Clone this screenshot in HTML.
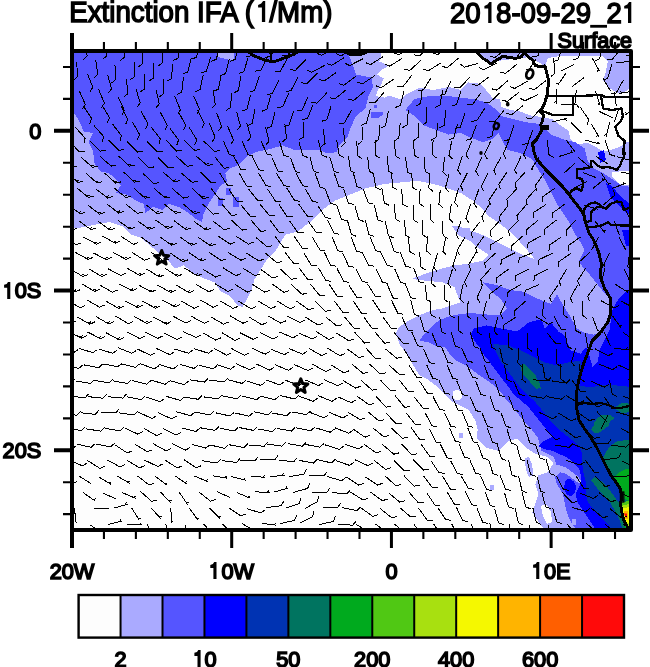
<!DOCTYPE html>
<html><head><meta charset="utf-8"><title>Extinction IFA</title>
<style>
html,body{margin:0;padding:0;background:#fff;}
body{width:650px;height:667px;overflow:hidden;font-family:"Liberation Sans",sans-serif;}
svg{display:block;}
</style></head><body>
<svg width="650" height="667" viewBox="0 0 650 667">
<rect width="650" height="667" fill="#fff"/>
<defs><filter id="gs" x="0" y="0" width="650" height="667" filterUnits="userSpaceOnUse" color-interpolation-filters="sRGB"><feColorMatrix type="saturate" values="0"/></filter><clipPath id="mc"><rect x="72" y="51" width="559" height="479"/></clipPath></defs>
<g clip-path="url(#mc)">
<g shape-rendering="crispEdges">
<rect x="60" y="40" width="590" height="500" fill="#AAAAFF"/>
<polygon fill="#FDFDFD" points="60.0,230.0 85.0,227.0 98.0,224.0 110.0,222.0 124.0,227.0 131.5,234.6 140.8,237.7 150.0,245.4 159.0,253.0 168.5,260.8 174.6,268.5 183.8,265.4 193.0,273.0 205.4,279.0 214.6,282.3 220.8,291.5 230.0,296.0 237.7,305.4 242.3,307.0 247.0,299.0 251.5,290.0 254.6,279.0 262.3,267.0 267.0,259.0 276.0,250.0 285.4,234.6 297.7,231.5 310.0,222.0 322.3,210.0 334.6,200.8 350.0,194.6 365.4,188.5 383.8,184.0 402.3,182.3 417.7,180.8 433.0,183.8 448.5,188.5 460.8,193.0 473.0,200.8 482.3,208.5 488.5,216.0 497.7,222.3 510.0,231.5 519.0,240.8 528.5,251.5 534.6,259.0 522.3,254.6 510.0,248.5 497.7,242.3 485.4,236.0 473.0,231.5 460.8,227.0 451.5,225.4 457.7,234.6 470.0,240.8 479.0,248.5 488.5,254.6 482.3,260.8 467.0,263.8 454.6,265.4 442.3,268.5 427.0,273.0 411.5,279.0 427.0,280.8 442.3,282.3 454.6,287.0 457.7,296.0 460.8,302.3 451.5,305.4 442.3,308.5 433.0,310.0 420.8,314.6 408.5,320.8 399.0,327.0 396.0,333.0 400.0,345.0 406.5,354.0 413.0,364.7 419.4,375.4 428.0,379.7 436.6,386.2 445.3,394.8 451.7,401.3 460.3,405.6 469.0,410.0 475.4,420.7 477.6,429.3 477.0,438.5 486.0,447.7 498.5,450.8 507.7,441.5 517.0,438.5 526.0,447.7 535.4,453.8 547.7,457.0 553.8,463.0 547.7,472.3 538.5,475.4 535.4,484.6 538.5,493.8 535.4,503.0 532.3,512.3 538.5,521.5 547.7,535.0 60.0,535.0"/>
<polygon fill="#FDFDFD" points="380.8,45.0 381.5,57.7 379.2,61.5 384.6,63.8 389.2,65.4 381.5,70.0 377.0,74.6 383.8,78.5 380.8,85.4 377.0,91.5 376.2,96.2 384.6,97.7 389.2,95.4 395.4,97.7 400.0,99.2 406.2,94.6 412.3,91.5 420.0,87.5 433.0,90.0 448.5,87.0 460.8,90.0 467.7,82.3 480.0,83.8 486.0,90.0 492.3,97.7 500.0,99.2 501.5,107.0 510.8,110.0 520.0,111.5 532.3,116.0 543.0,117.0 552.4,119.3 561.6,126.2 568.5,130.8 570.8,140.0 577.8,144.7 587.0,142.4 596.2,147.0 603.2,151.6 612.4,149.3 619.3,147.0 626.3,142.4 640.0,137.8 640.0,93.0 628.6,89.3 621.6,93.9 614.7,91.6 607.8,87.0 603.0,80.0 605.5,73.0 607.8,61.5 603.0,56.5 560.0,56.0 548.0,58.0 545.0,66.0 538.0,62.0 531.0,57.0 520.0,58.0 505.0,60.0 490.0,62.0 483.0,57.7 477.0,53.0 470.0,45.0"/>
<polygon fill="#FDFDFD" points="612.0,172.0 640.0,170.0 640.0,187.0 620.0,184.0 612.0,177.0"/>
<polygon fill="#5555FF" points="60.0,40.0 348.5,40.0 348.5,54.6 353.0,65.4 356.0,74.6 371.5,77.7 373.0,87.0 368.5,96.0 365.4,108.5 356.0,116.0 351.0,127.0 348.0,136.0 343.5,141.0 339.0,146.0 336.5,152.0 328.0,153.5 319.0,150.0 307.0,150.0 294.6,150.0 282.3,145.4 270.0,149.0 257.7,151.5 247.0,156.0 237.7,165.4 230.0,168.5 225.4,173.0 227.0,182.0 220.8,185.4 214.6,194.6 208.5,203.8 203.8,213.0 202.0,222.0 196.0,219.0 188.5,213.0 179.0,207.0 168.5,203.8 162.3,210.0 153.0,207.0 145.4,213.0 143.8,203.8 136.0,200.8 127.0,194.6 116.0,193.0 120.8,185.4 116.0,179.0 108.5,173.0 100.8,171.5 94.6,163.8 93.0,151.5 88.5,142.3 93.0,133.0 83.8,131.5 79.2,120.8 74.0,113.0 60.0,113.0"/>
<polygon fill="#5555FF" points="405.4,110.0 414.6,99.0 430.0,96.0 448.5,96.0 461.5,97.7 473.8,99.2 486.0,102.3 497.0,110.0 501.5,116.0 513.8,119.2 526.0,122.3 538.5,123.8 543.0,127.0 550.8,134.6 563.0,139.2 575.4,142.3 584.6,148.5 587.7,160.8 593.8,168.5 603.0,173.0 612.3,179.2 621.5,185.4 640.0,188.5 640.0,345.0 594.0,334.6 600.0,333.0 607.7,322.3 610.8,313.0 610.8,299.0 606.0,295.0 598.0,285.0 590.0,275.0 578.5,262.0 584.6,250.0 581.5,243.8 575.4,234.6 569.2,222.3 563.0,213.0 557.0,203.8 550.8,191.5 544.6,179.2 538.5,170.0 532.3,159.2 520.0,153.0 507.7,150.0 503.0,142.3 498.5,133.0 492.3,139.2 483.0,142.3 470.8,137.7 460.8,133.0 448.5,134.6 436.0,130.0 423.8,125.4 414.6,116.0"/>
<polygon fill="#5555FF" points="482.0,282.0 497.7,285.4 510.0,290.0 522.3,291.5 538.5,299.0 550.8,303.8 557.0,294.6 561.5,302.3 569.0,314.6 577.0,328.5 584.6,333.0 594.0,334.6 640.0,345.0 640.0,540.0 577.0,540.0 577.0,529.0 575.4,528.4 571.0,521.9 567.0,513.3 565.0,504.7 563.0,493.8 557.0,484.6 553.8,472.3 556.0,463.0 553.8,457.0 541.5,450.8 538.0,438.0 531.5,429.3 525.0,422.8 518.5,414.2 512.0,405.6 505.6,399.0 501.3,392.7 494.8,386.2 486.2,379.7 479.7,375.4 471.0,369.0 464.7,364.7 456.0,360.3 449.6,353.9 445.3,347.4 436.6,346.3 428.0,342.0 419.4,341.0 423.7,334.5 430.2,328.0 438.8,320.5 449.6,316.2 460.3,314.0 471.0,313.0 488.5,314.6 500.8,314.6 507.0,308.5 500.8,299.2 491.5,291.5"/>
<polygon fill="#0000FF" points="473.8,328.5 486.0,325.4 501.5,328.5 517.0,331.5 529.0,322.3 541.5,319.2 544.6,328.5 550.8,322.3 558.5,331.5 563.9,335.0 566.4,340.2 570.7,350.3 580.8,353.7 586.0,347.0 589.3,355.4 592.7,367.3 597.8,362.2 599.5,350.3 602.9,343.6 606.3,336.8 609.7,330.0 611.0,318.0 613.0,308.0 618.0,300.0 625.0,292.0 640.0,285.0 640.0,540.0 596.0,540.0 594.8,528.4 590.5,521.9 586.2,515.4 581.9,509.0 577.6,502.5 575.4,493.9 579.7,485.3 581.0,477.0 580.0,470.8 577.0,466.2 572.3,461.5 566.2,457.0 558.5,453.8 552.3,450.8 544.6,449.2 538.5,446.2 543.0,441.5 552.3,437.0 546.2,429.2 540.0,421.5 533.8,413.8 527.7,406.2 521.5,401.0 514.2,394.8 507.8,386.2 501.3,377.6 494.8,369.0 488.4,360.3 483.0,353.9 479.7,347.4 474.4,341.0 471.0,334.5"/>
<polygon fill="#0000FF" points="622.0,230.0 640.0,230.0 640.0,248.0 626.0,246.0"/>
<polygon fill="#0000FF" points="606.0,183.0 612.0,186.0 620.0,196.0 629.0,203.0 640.0,208.0 640.0,222.0 628.0,214.0 618.0,205.0 610.0,196.0"/>
<polygon fill="#0000FF" points="598.0,152.0 604.0,150.0 606.0,160.0 600.0,163.0"/>
<polygon fill="#0033B3" points="492.3,343.8 507.7,345.4 520.0,350.0 532.3,356.0 544.6,362.3 557.0,365.4 569.2,362.3 578.5,360.8 581.5,361.0 579.5,375.0 578.0,385.0 590.0,387.5 600.0,385.5 610.0,384.5 620.0,386.0 640.0,387.5 640.0,540.0 612.0,540.0 609.9,526.2 603.4,519.7 597.0,513.3 591.0,506.8 587.0,500.3 585.5,491.7 586.0,483.1 584.5,477.0 583.0,470.8 582.3,464.6 581.5,458.5 581.5,452.3 579.2,446.2 573.8,441.5 566.2,435.4 558.5,429.2 552.3,423.0 546.2,415.4 540.0,407.7 533.8,400.5 527.2,394.8 520.7,388.4 514.2,379.7 507.8,371.0 501.3,362.5 497.0,353.9"/>
<polygon fill="#007460" points="520.0,365.4 524.0,364.0 529.0,368.5 535.4,376.0 540.0,384.0 541.0,389.0 533.0,385.0 527.0,379.0 522.0,373.0"/>
<polygon fill="#007460" points="594.3,422.3 598.0,417.0 603.0,415.5 608.0,416.5 610.5,420.0 608.5,426.0 603.0,430.0 597.0,431.0 593.0,428.0"/>
<polygon fill="#007460" points="606.0,452.0 611.0,445.0 617.0,441.5 623.0,440.5 640.0,440.0 640.0,540.0 625.0,540.0 621.0,524.0 617.0,514.0 611.0,504.0 604.0,496.0 597.0,488.0 591.0,480.0 594.0,477.0 601.0,481.0 608.0,488.0 614.0,496.0 619.0,503.0 621.0,497.0 620.0,489.0 616.6,483.0 611.5,476.0 606.4,466.8 603.0,458.0"/>
<polygon fill="#007460" points="591.0,430.0 596.0,421.5 601.2,414.7 609.7,414.7 614.7,418.1 609.7,421.5 604.6,426.6 601.2,431.7 596.0,433.4 592.7,431.7"/>
<polygon fill="#007460" points="616.4,406.3 621.5,402.9 640.0,404.6 640.0,411.4 621.5,413.0 616.4,409.7"/>
<polygon fill="#007460" points="530.0,370.7 535.0,374.0 540.0,386.0 536.8,389.3 530.0,382.5"/>
<polygon fill="#00AA1E" points="613.5,478.0 618.6,473.0 624.6,469.5 640.0,466.0 640.0,505.0 624.6,499.0 620.6,491.0 616.6,483.0"/>
<polygon fill="#00AA1E" points="621.6,503.0 640.0,500.0 640.0,540.0 628.0,540.0 624.0,522.0 621.6,511.0"/>
<polygon fill="#50C814" points="620.8,503.0 629.0,500.5 640.0,500.0 640.0,535.0 627.0,530.0 624.5,523.0 622.0,515.0 620.6,509.0"/>
<polygon fill="#A8E010" points="621.5,506.0 629.0,504.0 640.0,504.0 640.0,528.0 627.0,526.0 624.5,520.0 622.3,513.0"/>
<polygon fill="#F5F800" points="622.3,508.5 629.0,507.0 640.0,507.0 640.0,523.0 627.0,522.5 624.5,518.0 622.8,513.0"/>
<polygon fill="#FFB400" points="623.5,511.5 628.0,511.0 628.5,519.0 625.5,518.5 623.8,515.0"/>
<polygon fill="#FF5F00" points="624.0,513.0 627.2,512.8 627.4,517.6 625.2,517.4"/>
<polygon fill="#FF0A0A" points="625.0,514.3 626.6,514.3 626.6,516.4 625.0,516.4"/>
<polygon fill="#AAAAFF" points="218.0,45.0 234.0,45.0 234.0,61.0 226.0,59.0 218.0,57.0"/>
<polygon fill="#5555FF" points="226.0,188.0 231.0,188.0 231.0,195.0 226.0,195.0"/>
<polygon fill="#5555FF" points="233.0,197.0 239.0,197.0 239.0,207.0 233.0,207.0"/>
<polygon fill="#5555FF" points="218.0,198.0 223.0,198.0 223.0,206.0 218.0,206.0"/>
<polygon fill="#5555FF" points="371.0,111.5 383.0,111.5 383.0,114.5 379.0,117.7 371.0,117.7"/>
<polygon fill="#5555FF" points="373.5,104.5 376.5,104.5 376.5,107.5 373.5,107.5"/>
<polygon fill="#AAAAFF" points="455.0,229.0 470.0,228.0 470.0,238.0 460.0,236.0"/>
<polygon fill="#FDFDFD" points="453.0,391.0 458.0,389.5 461.5,392.0 462.0,397.0 459.0,400.5 455.0,400.0 452.5,396.0"/>
<polygon fill="#AAAAFF" points="490.0,485.0 494.0,485.0 494.0,490.0 490.0,490.0"/>
<polygon fill="#AAAAFF" points="459.0,433.0 463.0,433.0 463.0,438.0 459.0,438.0"/>
<polygon fill="#AAAAFF" points="555.0,465.0 557.0,464.6 566.2,467.7 572.3,472.3 578.5,477.0 581.5,481.5 578.5,483.0 572.3,478.5 566.2,473.8 560.0,472.3 556.0,476.0 553.0,476.0"/>
<polygon fill="#0000FF" points="565.0,481.0 569.0,478.5 573.5,481.5 576.5,486.0 575.0,492.0 571.0,496.0 567.0,495.0 564.0,489.5"/>
<polygon fill="#AAAAFF" points="524.5,458.0 529.0,457.0 532.0,464.0 533.5,475.0 529.0,477.0 526.0,470.0"/>
<polygon fill="#FDFDFD" points="541.0,506.0 546.0,504.0 551.0,512.0 552.0,522.0 547.0,524.0 543.0,516.0"/>
<polygon fill="#AAAAFF" points="572.0,519.0 576.0,519.0 576.0,525.0 572.0,525.0"/>
</g>
<path d="M47.6 45.6L50.4 60.2L46.7 64.1M66.3 44.0L68.1 58.7L64.1 62.3M85.4 41.3L87.1 56.0L83.1 59.7M105.1 41.0L106.8 55.7L102.8 59.4M124.2 42.5L124.4 57.3L120.1 60.6M143.0 48.8L142.8 63.6L138.5 66.7M162.6 48.6L162.0 63.4L157.5 66.4M180.9 43.9L177.9 58.4L173.0 60.6M200.1 42.9L196.5 57.2L191.5 59.2M220.3 45.1L216.2 59.4L211.2 61.2M239.1 45.2L235.1 59.4L230.1 61.3M257.3 41.9L251.5 55.6L246.3 56.8M277.4 43.4L270.4 56.5L265.1 57.2M296.3 43.3L287.6 55.3L282.2 55.3M315.8 43.3L303.6 51.6L298.5 49.8M334.5 48.0L321.7 55.4L316.7 53.2M353.9 48.5L341.0 55.9L336.1 53.7M372.0 46.9L359.1 54.2L354.2 52.0M391.1 41.3L379.1 49.9L374.0 48.2M411.1 46.0L399.2 54.8L394.0 53.1M430.5 46.3L419.3 55.9L414.0 54.7M449.2 44.8L438.0 54.5L432.7 53.3M468.6 45.5L455.9 53.1L451.0 50.9M487.5 45.9L474.0 52.1L469.3 49.4M506.5 48.4L494.9 57.5L489.7 56.0M525.1 46.2L516.1 58.0L510.7 57.9M543.7 42.3L537.8 55.9L532.6 57.0M563.0 46.4L557.8 60.3L552.6 61.7M582.1 43.7L578.4 58.0L573.3 60.0M602.4 43.9L599.8 58.5L594.9 60.9M621.0 48.2L612.0 59.9L606.6 59.8M640.6 44.0L631.2 55.4L625.8 55.1M38.5 65.2L42.7 79.4L39.4 83.7M57.2 58.3L59.6 72.9L55.7 76.7M76.5 61.7L77.8 76.4L73.8 80.0M95.6 59.5L97.8 74.2L94.0 78.0M114.9 64.7L115.9 79.5L111.8 82.9M134.5 61.9L134.5 76.7L130.1 79.9M153.6 63.5L153.1 78.2L148.6 81.3M172.8 64.0L171.3 78.7L166.6 81.4M191.3 57.6L187.8 72.0L182.8 74.0M210.8 56.8L206.5 71.0L201.4 72.8M229.2 59.2L225.7 73.5L220.7 75.6M248.1 57.4L243.9 71.6L238.8 73.4M267.3 57.0L260.8 70.2L255.4 71.2M287.6 58.3L280.3 71.2L275.0 71.9M305.7 59.6L295.5 70.3L290.1 69.6M324.6 65.5L311.4 72.2L306.6 69.8M344.2 57.6L331.7 65.4L326.7 63.4M362.8 58.8L349.6 65.6L344.8 63.1M383.0 56.6L370.6 64.6L365.5 62.6M402.3 58.2L389.8 66.1L384.8 64.1M420.8 60.4L409.8 70.4L404.5 69.3M440.6 63.1L428.0 70.9L423.0 68.9M458.5 58.1L447.3 67.7L442.0 66.4M478.4 63.3L464.2 67.2L459.9 63.8M496.8 63.0L483.7 69.8L478.8 67.4M517.0 64.0L505.6 73.4L500.3 72.0M535.8 59.2L527.7 71.5M529.1 69.5L526.4 69.6M553.6 58.5L554.9 73.2L550.8 76.7M574.2 64.4L561.1 71.1M592.4 58.3L599.5 71.3M598.3 69.1L597.2 71.6M611.9 64.3L607.6 78.5L602.5 80.3M631.3 61.6L616.5 62.4M650.3 58.4L636.4 63.4M638.7 62.5L636.5 61.0M50.2 76.9L55.0 90.9L51.9 95.3M68.6 79.5L73.7 93.4L70.6 97.8M87.4 73.6L92.8 87.3L89.9 91.9M107.6 74.6L111.6 88.9L108.3 93.1M126.6 79.0L127.7 93.7L123.6 97.2M145.0 74.1L144.6 88.9L140.2 91.9M163.5 78.9L163.7 93.7L159.4 96.9M183.4 77.1L181.8 91.8L177.1 94.5M203.1 75.2L200.0 89.6L195.0 91.8M221.2 74.5L218.4 89.1L213.5 91.4M240.8 75.9L238.5 90.5L233.7 93.0M259.2 76.4L254.6 90.5L249.4 92.1M278.8 80.3L272.4 93.6L267.1 94.6M297.9 77.6L290.9 90.7L285.6 91.4M317.2 73.1L306.7 83.6L301.4 82.8M336.1 72.5L324.1 81.1L319.0 79.4M355.8 76.2L344.0 85.2L338.8 83.6M374.8 75.6L362.5 83.9L357.4 82.1M393.5 79.3L381.3 87.7L376.2 85.9M412.0 75.0L402.9 86.7L397.5 86.5M431.3 77.4L423.4 90.0L418.1 90.3M450.9 80.7L444.8 94.2L439.6 95.3M469.8 77.2L459.7 88.0L454.4 87.4M489.0 76.9L477.2 85.7L472.0 84.1M508.2 80.4L496.9 90.1L491.7 88.8M527.5 81.1L514.7 88.5L509.8 86.3M545.9 80.6L534.3 89.7L529.1 88.3M565.9 73.3L557.5 85.5M558.9 83.4L556.2 83.5M584.1 77.6L572.2 86.5M603.0 78.6L610.7 91.2M623.4 80.1L616.2 93.0L610.8 93.6M642.6 74.8L634.1 86.9L628.8 87.0M40.8 91.0L47.6 104.1L45.2 109.0M60.6 92.6L67.6 105.6L65.3 110.5M79.2 90.8L85.3 104.3L82.6 109.0M98.6 89.4L104.4 103.1L101.6 107.7M118.3 97.1L124.4 110.6L121.7 115.3M136.0 88.9L140.2 103.0L136.9 107.3M156.1 89.6L159.3 104.0L155.7 108.1M174.7 96.1L180.4 109.8L177.6 114.4M193.5 95.7L199.6 109.2L197.0 113.9M213.1 89.9L215.3 104.6L211.5 108.4M231.4 92.6L230.7 107.4L226.2 110.4M250.5 94.7L247.0 109.1L242.0 111.1M270.8 95.1L266.9 109.4L261.8 111.3M288.7 93.1L282.7 106.6L277.4 107.7M308.2 96.4L302.1 109.9L296.9 111.0M327.2 92.5L316.8 103.1L311.5 102.3M346.3 89.6L334.9 99.0L329.7 97.7M365.1 90.9L353.7 100.4L348.5 99.1M384.6 91.6L374.9 102.8L369.5 102.4M404.0 91.2L400.3 105.5L395.2 107.5M422.3 88.6L420.7 103.3L416.0 106.0M442.6 90.5L440.0 105.1L435.1 107.4M461.3 90.5L456.6 104.5L451.4 106.1M480.9 92.8L472.3 104.8L466.9 104.8M500.0 92.8L489.2 102.9L483.9 101.9M518.9 92.4L507.2 101.5L502.0 100.0M538.2 94.3L524.9 100.8L520.1 98.2M556.6 89.1L556.1 103.9M556.2 101.4L554.0 102.9M576.3 89.8L574.9 104.6M595.6 91.4L600.2 105.5M599.4 103.1L597.8 105.3M614.0 91.9L616.5 106.5M634.0 90.9L619.4 93.4M621.8 93.0L619.9 91.1M45.2 107.1L53.2 119.6L51.2 124.6M64.5 106.5L72.5 118.9L70.6 123.9M83.6 106.2L91.7 118.6L89.7 123.7M102.0 105.1L109.5 117.8L107.4 122.8M121.0 106.4L127.9 119.5L125.6 124.4M141.0 110.9L148.0 124.0L145.6 128.9M160.3 112.3L167.3 125.3L164.9 130.2M178.9 112.5L185.8 125.6L183.4 130.4M197.6 110.4L204.4 123.5L202.0 128.4M216.6 112.6L221.6 126.5L218.6 130.9M236.6 111.8L240.5 126.0L237.1 130.2M254.9 109.0L252.2 123.5L247.4 125.8M275.1 112.0L271.5 126.3L266.5 128.4M293.8 111.0L289.1 125.0L283.9 126.6M313.1 104.7L307.6 118.4L302.4 119.8M331.3 105.5L326.8 119.6L321.7 121.3M351.5 110.0L344.5 123.0L339.1 123.7M370.3 109.1L366.3 123.3L361.2 125.2M388.4 111.3L385.5 125.8L380.5 128.1M408.3 110.2L407.0 125.0L402.4 127.7M426.7 107.3L426.8 122.1L422.5 125.3M445.8 110.3L444.3 125.1L439.6 127.8M465.1 113.1L460.3 127.1L455.1 128.6M484.7 108.5L476.6 120.9L471.2 121.1M504.1 110.2L494.8 121.7L489.4 121.5M523.1 105.4L511.7 114.8L506.5 113.4M541.6 107.7L531.5 118.6L526.2 117.9M561.2 104.6L576.0 104.0L579.4 108.2M580.5 107.5L588.8 119.7L587.0 124.8M599.2 111.4L612.6 117.9M619.1 107.8L614.3 121.8M637.4 106.2L625.5 114.9M627.5 113.5L624.9 112.6M37.0 124.5L45.8 136.4L44.1 141.6M56.7 126.8L65.9 138.4L64.5 143.6M75.1 127.1L85.1 138.0L84.0 143.3M93.8 125.4L103.6 136.4L102.4 141.7M112.5 124.0L121.4 135.8L119.9 141.0M132.3 121.7L139.6 134.6L137.3 139.5M151.3 127.3L160.4 138.9L158.9 144.1M169.8 128.0L178.5 140.0L176.8 145.1M189.1 127.2L196.8 139.9L194.8 144.8M209.4 123.5L215.1 137.2L212.3 141.8M227.7 126.4L233.5 140.0L230.7 144.6M246.8 122.9L250.8 137.2L247.4 141.4M265.4 126.9L269.0 141.2L265.5 145.4M284.9 123.5L286.5 138.3L282.5 141.9M303.9 122.4L303.1 137.2L298.6 140.1M323.2 128.7L325.1 143.3L321.2 147.0M343.0 128.4L345.2 143.0L341.4 146.8M362.3 126.7L362.0 141.5L357.6 144.6M380.0 124.8L378.7 139.6L374.1 142.4M400.2 123.4L398.8 138.1L394.2 140.9M418.2 122.6L418.1 137.4L413.7 140.5M438.0 123.0L435.9 137.6L431.1 140.2M457.5 123.7L453.8 138.0L448.8 140.0M476.4 125.0L471.2 138.8L466.0 140.3M495.1 121.6L491.9 136.1L486.9 138.2M513.9 125.5L509.2 139.5L504.0 141.1M533.1 129.5L527.8 143.3L522.5 144.7M552.5 121.8L566.9 118.3M564.5 118.9L566.5 120.6M571.0 122.5L581.6 132.9M591.2 124.0L599.0 136.6M597.7 134.5L596.6 137.0M609.6 122.4L606.0 136.7M606.6 134.3L604.1 135.3M629.0 128.0L641.7 135.5M639.6 134.2L639.8 136.9M647.7 124.3L639.6 136.7M51.5 140.1L61.2 151.2L66.6 150.8M69.3 141.2L79.4 152.0L84.7 151.3M89.7 140.8L100.3 151.1L105.6 150.2M108.3 140.0L118.9 150.4L124.2 149.5M127.1 141.5L137.5 152.1L142.8 151.3M146.9 141.4L157.4 151.9L162.7 151.0M166.3 140.4L176.5 151.1L181.8 150.4M184.0 140.3L194.8 150.4L200.1 149.3M203.7 141.1L214.4 151.4L219.7 150.5M223.5 141.2L229.4 154.7L234.7 155.9M242.1 141.2L248.1 154.8L253.4 155.9M260.9 140.9L267.2 154.3L272.5 155.4M279.4 141.3L283.8 155.4L288.9 157.1M298.8 141.5L302.9 155.7L308.0 157.5M318.5 140.5L321.8 154.9L326.8 157.1M336.8 140.4L339.2 155.0L344.1 157.4M356.7 141.1L357.7 155.9L362.2 158.8M375.0 140.1L375.1 154.9L379.5 158.1M394.7 141.0L395.3 155.7L399.8 158.7M413.6 140.4L414.3 155.2L418.9 158.1M433.1 140.0L432.5 154.8L436.7 158.2M451.7 140.8L449.0 155.3L452.8 159.2M471.8 141.1L466.0 154.7L468.8 159.3M490.8 140.8L484.6 154.2L487.2 158.9M508.9 140.4L503.3 154.1L506.2 158.7M529.1 141.1L523.5 154.8L526.3 159.4M547.2 140.1L549.0 154.7L553.7 157.4M566.5 140.4L575.4 152.3M585.3 140.1L599.5 144.0M597.1 143.4L599.2 141.7M605.1 140.3L609.7 154.4L614.8 156.1M623.9 140.3L622.2 155.1M622.5 152.6L624.5 154.4M643.5 140.4L656.4 147.7M42.6 157.5L52.6 168.4L58.0 167.8M51.2 166.9L54.1 166.5M61.5 156.3L72.0 166.8L77.3 165.9M70.5 165.3L73.5 164.8M81.4 157.5L92.5 167.3L97.8 166.1M90.9 165.9L93.8 165.2M100.0 156.3L111.1 166.1L116.4 164.9M118.7 156.1L129.5 166.2L134.8 165.1M128.0 164.7L130.9 164.2M138.2 157.4L148.8 167.8L154.1 166.9M157.9 157.6L168.4 168.0L173.7 167.1M176.3 156.3L187.2 166.3L192.5 165.2M196.1 156.0L207.4 165.6L212.6 164.3M205.8 164.2L208.7 163.5M214.6 156.6L224.0 168.1L229.4 167.8M233.6 156.3L240.8 169.2L246.2 169.9M252.2 156.4L258.7 169.7L264.0 170.7M271.9 157.5L277.9 171.0L283.2 172.1M290.6 157.5L295.4 171.5L300.6 173.1M309.8 156.6L313.5 170.9L318.5 172.9M329.9 157.3L334.2 171.5L339.3 173.2M348.4 156.1L350.6 170.7L355.3 173.2M367.6 156.6L369.3 171.3L374.0 173.9M387.4 156.3L388.5 171.1L393.1 173.9M405.6 157.4L407.5 172.1L412.3 174.7M424.1 156.6L425.2 171.4L429.8 174.3M444.5 157.2L442.9 171.9L446.9 175.6M462.4 156.0L457.7 170.1L460.8 174.5M481.5 157.5L475.7 171.1L478.5 175.7M500.9 157.2L493.8 170.2L496.1 175.0M521.0 156.5L514.6 169.9L517.2 174.6M539.1 157.5L530.8 169.7M532.2 167.7L533.1 170.2M558.9 156.5L573.1 152.1M570.7 152.9L571.6 150.3M578.1 157.5L589.5 166.9M596.0 156.4L608.5 164.3M616.6 156.6L630.9 160.6M628.5 159.9L630.6 158.3M635.0 157.5L649.5 160.5M48.3 173.3L58.8 183.7L64.2 182.8M67.2 172.5L78.1 182.5L83.4 181.4M76.5 181.1L79.5 180.5M85.9 173.2L97.0 183.0L102.3 181.8M95.4 181.6L98.3 180.9M104.7 173.2L115.7 183.1L121.0 181.9M114.2 181.7L117.1 181.0M123.6 172.0L134.4 182.1L139.7 181.1M132.9 180.7L135.8 180.1M143.1 173.5L153.9 183.6L159.2 182.6M163.3 172.4L174.6 181.9L179.8 180.7M173.0 180.6L175.9 179.9M181.0 172.8L192.2 182.4L197.5 181.1M200.6 172.3L211.1 182.7L216.5 181.9M219.7 173.0L227.6 185.5L233.0 185.8M239.2 173.2L246.6 186.0L252.0 186.5M258.6 173.0L266.0 185.8L271.4 186.4M276.5 173.3L284.3 185.9L289.7 186.3M295.9 172.9L302.9 185.9L308.2 186.6M315.1 173.1L320.0 187.1L325.2 188.7M333.9 172.4L338.9 186.3L344.1 187.8M353.1 172.2L357.0 186.5L362.0 188.4M373.2 172.9L375.9 187.4L380.7 189.8M391.4 172.6L392.8 187.3L397.5 190.1M411.6 172.8L412.7 187.5L417.3 190.4M429.5 173.3L428.9 188.0L433.1 191.4M449.2 173.5L445.4 187.8L448.8 192.0M467.5 172.7L460.7 185.9L463.1 190.7M487.7 173.3L481.2 186.6L483.7 191.4M507.0 172.0L498.8 184.4L500.7 189.4M525.1 172.2L515.1 183.1L516.2 188.4M544.0 173.5L535.3 185.5L537.0 190.6M563.7 173.4L574.7 163.5M582.6 172.4L596.4 177.7M601.2 172.9L609.3 185.3M607.9 183.2L610.6 183.3M620.7 172.2L635.3 174.6M632.8 174.2L634.7 172.3M640.2 173.0L654.6 176.2M652.2 175.6L654.2 173.8M38.4 189.0L49.2 199.1L54.5 198.1M47.7 197.7L50.6 197.1M57.5 188.3L68.6 198.1L73.9 196.9M77.0 188.0L88.4 197.5L93.6 196.1M86.8 196.1L89.6 195.4M95.8 188.8L107.5 198.0L112.7 196.5M105.8 196.7L108.7 195.9M114.4 188.2L125.9 197.6L131.1 196.2M124.3 196.2L127.2 195.5M134.1 188.4L145.1 198.2L150.4 197.0M143.6 196.8L146.5 196.2M154.0 188.4L165.3 198.0L170.5 196.8M163.7 196.7L166.6 196.0M172.2 188.6L183.5 198.1L188.7 196.8M192.3 188.5L203.2 198.5L208.5 197.4M201.7 197.1L204.6 196.5M211.0 188.3L220.1 199.9L225.5 199.6M228.9 189.4L237.3 201.6L242.7 201.7M248.7 189.2L257.9 200.8L263.3 200.5M267.7 189.3L275.9 201.7L281.3 202.0M286.9 188.2L294.8 200.8L300.1 201.1M305.3 188.8L312.7 201.7L318.0 202.2M325.4 189.4L330.5 203.3L335.7 204.8M343.6 188.9L348.3 203.0L353.5 204.6M363.2 188.7L368.2 202.7L373.4 204.2M381.9 188.4L384.4 203.0L389.3 205.4M401.6 189.4L402.9 204.2L407.5 207.0M420.1 188.7L419.6 203.5L423.9 206.8M440.3 189.5L438.9 204.2L443.0 207.8M458.4 188.1L454.7 202.5L458.1 206.6M478.7 189.5L473.9 203.5L477.0 207.9M497.1 188.0L488.8 200.3L490.7 205.4M516.9 188.6L506.8 199.4L507.9 204.7M535.9 188.9L526.1 200.0L527.2 205.2M554.9 188.2L542.8 196.7L542.8 202.1M574.0 188.3L587.0 181.3M593.1 188.2L604.7 179.0M602.8 180.6L602.7 177.9M611.7 188.5L625.6 183.4M623.3 184.3L624.0 181.7M631.2 189.4L645.6 186.0L647.7 181.0M650.3 188.0L651.6 202.7M651.4 200.2L653.7 201.6M49.9 204.8L61.3 214.2L66.5 212.8M59.7 212.8L62.6 212.1M68.5 204.6L80.1 213.8L85.3 212.3M78.4 212.5L81.3 211.7M87.8 205.0L99.4 214.1L104.6 212.6M97.8 212.8L100.6 212.0M106.9 203.9L118.6 213.1L123.8 211.6M116.9 211.8L119.8 210.9M126.1 204.3L137.7 213.5L142.9 212.0M145.6 204.6L157.4 213.7L162.6 212.1M155.7 212.4L158.6 211.5M164.3 204.1L175.7 213.4L180.9 212.0M174.1 212.1L177.0 211.3M183.3 204.0L194.5 213.7L199.8 212.4M192.9 212.3L195.8 211.6M202.5 204.0L213.3 214.1L218.6 213.1M221.8 204.0L231.4 215.3L236.8 214.9M241.1 205.1L250.6 216.5L255.9 216.1M259.8 204.0L269.3 215.4L274.6 215.1M278.9 204.5L287.2 216.7L292.6 216.9M298.7 204.1L307.4 216.1L312.8 216.1M317.7 205.5L325.7 217.9L331.1 218.2M336.6 205.2L341.3 219.2L346.5 220.8M354.8 205.5L358.9 219.7L364.0 221.5M374.4 205.4L377.8 219.8L382.8 221.9M394.2 204.2L395.5 218.9L400.1 221.7M413.1 205.4L414.0 220.2L418.5 223.1M431.0 204.5L430.0 219.2L434.1 222.7M451.2 204.2L449.2 218.8L453.1 222.6M470.5 204.3L465.9 218.4L469.0 222.8M489.5 204.1L481.8 216.8L483.9 221.8M508.1 205.4L499.1 217.1L500.6 222.3M526.7 204.3L517.0 215.5L518.2 220.7M546.3 204.4L533.8 212.3L533.5 217.7M564.7 204.2L552.7 212.9L552.7 218.3M584.0 205.4L598.2 209.3M603.1 205.2L614.3 195.5L613.9 190.1M622.9 204.5L629.3 217.8L634.7 218.8M641.9 205.3L656.5 208.0M41.3 220.5L53.2 229.3L58.4 227.7M59.8 221.5L71.9 230.0L77.0 228.2M70.2 228.7L73.0 227.8M79.1 221.1L91.1 229.7L96.3 227.9M89.4 228.4L92.3 227.5M97.9 221.1L109.8 229.9L114.9 228.3M108.1 228.6L110.9 227.7M118.0 220.3L129.9 229.1L135.0 227.5M128.2 227.8L131.0 227.0M137.4 220.8L149.5 229.3L154.6 227.6M147.7 228.1L150.6 227.2M155.4 219.9L167.5 228.4L172.6 226.6M165.8 227.2L168.6 226.2M174.2 220.9L186.1 229.7L191.3 228.0M184.4 228.4L187.3 227.5M193.9 221.3L205.9 230.0L211.0 228.3M204.2 228.8L207.0 227.8M212.6 220.9L224.4 229.8L229.6 228.2M231.3 219.9L242.1 230.1L247.4 229.1M251.0 220.0L260.6 231.3L266.0 230.8M270.1 220.2L279.0 232.1L284.4 232.0M289.5 220.8L298.1 232.9L303.5 232.9M308.0 220.9L316.6 232.9L322.0 233.0M327.6 220.1L334.1 233.4L339.4 234.3M347.4 220.3L351.4 234.5L356.5 236.4M365.2 220.0L368.8 234.4L373.8 236.4M385.1 221.3L388.5 235.7L393.4 237.8M404.5 220.5L405.7 235.3L410.3 238.1M422.7 219.9L422.8 234.7L427.2 237.8M442.4 220.8L443.1 235.6L447.6 238.5M461.1 220.9L456.0 234.8L459.1 239.3M480.3 221.4L471.2 233.0L472.7 238.2M499.9 220.3L490.0 231.3L491.2 236.6M519.2 219.9L508.6 230.3L509.4 235.6M537.8 220.5L526.3 229.9L526.6 235.3M556.4 220.0L544.8 229.1L545.0 234.5M576.3 219.9L566.0 230.4L566.8 235.8M595.1 221.4L604.8 232.5M603.2 230.6L605.9 230.4M614.3 220.7L619.1 234.7M632.7 220.4L642.9 231.1M641.2 229.3L643.8 228.9M46.0 237.1L58.5 245.1L63.5 243.1M63.7 237.2L76.4 244.8L81.4 242.7M83.5 237.0L96.5 244.1L101.4 241.8M94.7 243.1L97.4 241.9M102.3 236.0L115.2 243.2L120.1 240.9M113.4 242.1L116.1 240.9M121.1 236.4L133.5 244.4L138.5 242.5M141.2 237.2L153.3 245.7L158.4 243.9M159.6 236.7L171.7 245.2L176.8 243.5M170.0 244.0L172.8 243.1M179.6 236.7L191.6 245.2L196.7 243.5M189.9 244.0L192.7 243.1M198.4 237.4L210.6 245.9L215.7 244.1M208.8 244.7L211.6 243.7M217.9 235.9L230.2 244.1L235.3 242.2M236.0 236.2L248.5 244.1L253.6 242.1M255.9 237.4L267.2 246.9L272.5 245.6M275.0 236.4L284.1 248.0L289.5 247.9M294.3 236.4L302.6 248.6L308.0 248.8M312.4 237.3L320.0 250.0L325.4 250.4M332.1 236.9L337.8 250.6L343.0 251.9M351.3 237.4L356.6 251.2L361.8 252.6M370.1 237.2L375.9 250.8L381.1 252.0M389.5 237.2L394.1 251.3L399.3 252.9M408.2 237.0L409.9 251.7L414.6 254.4M427.5 236.3L426.6 251.1L430.8 254.5M446.0 236.8L442.9 251.3L446.5 255.3M464.9 237.3L457.3 250.0L459.4 255.0M484.1 235.9L475.6 248.0L477.3 253.1M503.2 237.3L490.5 244.9L490.0 250.3M522.7 236.1L511.5 245.8L512.0 251.2M541.2 235.9L528.2 242.9L527.5 248.3M561.4 236.9L549.2 245.2L549.0 250.6M580.5 237.0L568.4 245.5L568.3 250.9M598.6 236.8L591.7 249.9M618.9 237.3L626.0 250.2M638.2 237.4L647.2 249.1M645.7 247.1L648.4 247.0M36.3 251.9L48.8 259.7L53.8 257.7M56.5 252.8L69.2 260.4L74.2 258.2M75.3 252.3L88.2 259.5L93.1 257.3M86.4 258.5L89.1 257.3M93.6 253.0L106.7 259.8L111.6 257.3M104.9 258.8L107.5 257.4M113.0 252.5L126.1 259.4L130.9 257.0M124.2 258.4L126.9 257.1M132.0 252.3L144.4 260.3L149.5 258.4M151.3 252.3L163.4 260.8L168.5 259.0M170.6 253.2L182.7 261.6L187.8 259.9M181.0 260.4L183.8 259.5M188.9 252.5L201.1 260.9L206.2 259.2M199.4 259.7L202.2 258.8M209.2 252.4L221.5 260.7L226.6 258.8M228.2 252.7L240.9 260.3L245.9 258.2M246.5 253.2L259.1 261.0L264.1 259.0M265.4 253.1L276.7 262.7L281.9 261.5M284.7 251.8L293.7 263.5L299.1 263.3M303.8 253.0L311.6 265.6L317.0 266.0M324.2 251.8L330.6 265.2L335.9 266.1M342.5 252.6L348.6 266.1L353.9 267.2M362.1 252.1L368.7 265.3L374.1 266.2M380.7 252.4L387.2 265.6L392.6 266.5M400.3 252.2L405.6 266.1L410.8 267.5M419.6 252.3L420.8 267.0L425.4 269.8M437.5 252.9L433.7 267.2L437.0 271.4M457.1 252.0L452.8 266.2L456.1 270.5M476.4 251.9L468.7 264.6L470.8 269.6M495.8 252.9L484.8 262.9L485.4 268.2M514.9 252.8L501.7 259.5L500.8 264.8M533.3 252.5L519.6 258.0L518.3 263.3M552.4 253.2L539.1 259.6L538.1 264.9M571.0 253.2L558.9 261.7L558.7 267.1M590.0 252.1L579.1 262.1L579.6 267.4M609.5 253.3L602.7 266.4M603.8 264.2L605.0 266.6M629.6 252.2L627.8 266.9L631.8 270.6M648.5 253.0L644.1 267.2M644.9 264.8L646.5 266.9M50.6 268.0L63.3 275.6L68.3 273.5M70.3 269.0L83.0 276.6L87.9 274.5M81.2 275.5L83.9 274.3M89.0 269.0L101.8 276.5L106.7 274.3M100.0 275.4L102.7 274.2M107.6 268.5L120.7 275.5L125.5 273.1M126.9 268.1L139.7 275.4L144.7 273.2M137.9 274.4L140.6 273.2M146.7 269.1L159.3 276.9L164.3 274.9M157.5 275.8L160.3 274.7M164.9 268.2L177.4 276.2L182.4 274.3M175.6 275.1L178.4 274.0M184.6 268.0L197.2 275.9L202.2 273.9M195.4 274.8L198.1 273.7M203.2 269.3L215.8 277.1L220.8 275.0M223.2 267.9L235.8 275.7L240.8 273.6M242.6 267.9L255.2 275.8L260.2 273.8M260.8 269.4L272.8 278.1L277.9 276.4M280.6 269.0L291.1 279.3L296.5 278.4M299.1 268.1L308.0 279.9L313.4 279.8M318.5 268.0L326.0 280.7L331.4 281.3M336.9 268.4L343.8 281.5L349.2 282.3M355.8 268.4L362.5 281.6L367.8 282.5M376.1 268.9L382.4 282.3L387.7 283.3M394.7 268.8L400.5 282.4L405.7 283.6M413.7 268.0L419.0 281.8L424.3 283.2M433.1 268.4L431.3 283.1L435.3 286.8M452.4 269.2L448.0 283.4L451.2 287.7M471.0 268.7L464.4 281.9L466.8 286.7M490.6 268.5L480.8 279.5L481.9 284.8M508.9 268.9L496.9 277.7L496.9 283.1M529.0 269.0L515.8 275.7L515.0 281.1M547.8 269.1L534.7 275.9L533.8 281.2M566.9 268.8L559.2 281.5L561.3 286.4M585.6 268.3L577.6 280.7L579.6 285.8M605.0 267.9L601.6 282.3M624.2 268.8L630.3 282.3M629.3 280.0L631.9 280.6M642.9 268.8L646.2 283.2L651.1 285.4M43.6 284.0L56.3 291.6L61.3 289.5M54.5 290.5L57.2 289.3M62.4 284.4L75.2 291.9L80.1 289.8M73.4 290.9L76.1 289.7M81.9 283.8L94.6 291.4L99.5 289.3M92.8 290.3L95.5 289.1M99.7 285.0L112.5 292.3L117.4 290.1M119.3 283.9L132.3 291.0L137.2 288.6M130.5 290.0L133.2 288.7M138.5 284.9L151.4 292.0L156.3 289.7M149.6 291.0L152.3 289.8M157.7 285.1L170.5 292.5L175.5 290.3M168.7 291.4L171.4 290.2M176.5 285.3L189.2 292.8L194.2 290.6M187.4 291.7L190.1 290.5M196.0 284.4L208.8 291.8L213.7 289.6M215.2 283.9L228.0 291.4L232.9 289.2M234.7 284.3L247.3 292.1L252.3 290.1M252.3 284.2L264.7 292.2L269.8 290.2M271.9 283.8L284.0 292.4L289.1 290.7M291.1 284.4L302.1 294.3L307.4 293.2M310.6 284.3L320.0 295.8L325.4 295.5M329.0 284.1L337.2 296.4L342.6 296.7M348.9 285.3L357.0 297.6L362.4 297.9M367.6 284.1L375.5 296.6L380.9 297.0M387.2 284.4L393.1 297.9L398.4 299.1M405.3 284.0L410.8 297.7L416.0 299.0M425.3 285.0L426.8 299.8L431.5 302.5M444.2 284.5L444.2 299.3L448.5 302.5M463.2 284.1L459.9 298.5L463.5 302.6M482.9 284.3L477.0 297.9L479.7 302.5M501.5 285.1L489.8 294.1L489.9 299.5M520.9 284.5L508.1 291.8L507.5 297.2M539.2 284.6L525.5 290.3L524.3 295.6M558.0 285.1L549.6 297.3L551.5 302.4M577.5 285.1L570.3 298.0L572.5 302.9M596.4 284.4L587.8 296.3L589.4 301.5M615.5 284.4L628.0 292.4M625.9 291.1L628.4 290.1M635.4 284.2L645.6 294.8M643.9 293.0L646.6 292.7M47.9 300.4L60.7 307.8L65.6 305.6M58.9 306.8L61.6 305.5M67.3 300.3L80.1 307.7L85.0 305.6M86.7 299.8L99.5 307.2L104.4 305.1M105.8 301.0L118.6 308.4L123.6 306.3M116.8 307.4L119.5 306.2M124.8 300.7L137.9 307.7L142.7 305.3M136.0 306.7L138.7 305.4M142.6 301.2L155.7 308.3L160.5 305.9M153.8 307.3L156.5 306.0M162.1 299.9L175.1 306.9L180.0 304.6M173.3 305.9L175.9 304.7M181.2 301.0L194.0 308.3L198.9 306.1M200.5 300.0L213.3 307.4L218.2 305.2M220.4 301.0L233.2 308.5L238.2 306.3M238.4 301.1L251.1 308.7L256.1 306.6M258.2 301.0L270.9 308.5L275.9 306.4M277.4 301.2L290.0 308.8L295.0 306.7M296.7 301.1L308.6 309.8L313.8 308.1M314.8 300.8L325.3 311.2L330.7 310.4M334.4 300.9L343.2 312.8L348.6 312.8M353.4 301.1L361.7 313.4L367.1 313.6M372.7 300.1L380.9 312.4L386.3 312.7M391.3 299.9L397.8 313.2L403.1 314.2M410.8 299.8L414.3 314.2L419.2 316.3M429.8 300.0L431.1 314.7L435.8 317.5M449.0 300.5L450.0 315.3L454.6 318.1M468.2 301.1L467.1 315.9L471.3 319.3M486.4 301.1L483.0 315.5L486.5 319.6M506.2 300.6L500.3 314.2L503.1 318.8M525.7 301.1L514.5 310.8L515.0 316.2M544.3 300.4L542.2 315.0L546.1 318.8M564.3 299.8L563.6 314.6L567.8 318.0M582.9 300.7L582.9 315.5L587.3 318.7M601.0 300.7L614.0 307.8L618.9 305.5M621.2 301.2L634.3 308.1M640.0 300.5L636.3 314.8M636.9 312.4L638.6 314.5M39.0 316.7L52.1 323.7L57.0 321.3M50.2 322.7L52.9 321.4M58.4 316.3L71.4 323.3L76.3 321.0M69.5 322.3L72.2 321.0M76.9 316.9L89.9 324.2L94.8 321.9M88.0 323.1L90.7 321.9M95.9 316.4L108.6 323.9L113.6 321.7M106.8 322.8L109.6 321.6M115.6 316.2L128.4 323.7L133.3 321.6M134.0 316.5L147.1 323.5L152.0 321.1M145.2 322.5L147.9 321.2M153.3 317.2L166.5 324.0L171.3 321.5M164.6 323.0L167.3 321.7M172.9 316.2L186.0 322.9L190.9 320.5M191.2 316.2L204.2 323.3L209.0 321.0M210.7 316.7L223.5 324.2L228.4 322.1M230.2 315.8L242.9 323.3L247.9 321.1M249.2 317.1L261.8 324.7L266.8 322.6M268.0 315.8L280.8 323.1L285.8 320.9M286.7 315.7L299.8 322.5L304.6 320.1M305.6 317.2L318.1 325.1L323.1 323.2M325.4 316.7L336.9 326.0L342.1 324.6M344.8 317.1L354.2 328.5L359.6 328.2M363.6 316.7L372.3 328.7L377.7 328.7M382.7 316.8L391.5 328.7L396.9 328.6M401.8 316.8L408.1 330.1L413.4 331.1M420.2 316.8L424.2 331.0L429.3 332.9M439.7 316.9L441.5 331.6L446.2 334.2M458.3 316.0L458.7 330.8L463.1 333.8M477.3 316.9L477.1 331.7L481.4 335.0M497.8 316.7L494.1 331.1L497.6 335.2M516.0 317.0L503.6 325.1L503.4 330.5M535.8 316.6L548.5 324.1L553.4 322.0M554.0 316.2L561.0 329.2L566.4 329.9M573.4 316.2L576.0 330.8L580.8 333.1M592.5 316.7L597.6 330.6L602.7 332.1M612.4 315.8L621.0 327.8M619.6 325.8L622.3 325.8M630.2 317.0L636.7 330.3M649.8 315.7L659.0 327.3L664.4 327.0M50.4 333.2L63.9 339.4L68.6 336.7M62.0 338.5L64.5 337.0M68.7 331.8L82.0 338.2L86.8 335.6M80.1 337.3L82.7 335.8M87.4 331.9L100.6 338.7L105.4 336.3M98.7 337.8L101.4 336.4M106.2 332.8L119.1 339.9L124.0 337.7M117.3 338.9L120.0 337.7M126.8 331.8L139.9 338.7L144.8 336.3M144.6 331.7L157.8 338.4L162.6 336.0M163.9 332.8L177.1 339.4L181.9 336.9M182.9 331.7L196.5 337.5L201.2 334.7M202.9 332.8L215.8 340.1L220.7 337.9M222.2 332.8L234.9 340.4L239.8 338.3M240.0 332.7L253.2 339.4L258.0 337.0M260.1 332.4L273.4 339.0L278.2 336.5M279.6 332.1L293.3 337.8L297.9 335.0M298.7 332.8L312.1 339.1L316.9 336.5M316.3 331.7L328.9 339.4L333.9 337.4M336.4 333.0L349.0 340.9L354.0 338.9M354.6 332.2L364.6 343.1L370.0 342.4M374.8 331.9L384.5 343.1L389.8 342.7M394.1 332.4L403.5 343.9L408.8 343.6M411.9 332.2L417.7 345.8L423.0 347.0M431.8 332.4L437.2 346.1L442.5 347.5M451.1 331.9L455.3 346.1L460.3 347.9M470.4 332.2L474.1 346.6L479.2 348.5M489.2 332.7L491.6 347.3L496.4 349.7M508.0 332.3L508.5 347.1L513.0 350.1M527.7 333.2L527.5 348.0L531.9 351.2M546.8 332.6L556.1 344.0L561.5 343.7M565.1 331.8L567.3 346.4L572.1 348.8M585.3 332.8L587.8 347.4L592.6 349.8M604.1 332.2L610.4 345.6M623.2 332.6L635.5 340.9M633.4 339.5L636.0 338.6M642.4 332.3L645.9 346.7L650.8 348.7M41.7 348.9L55.6 354.1L60.1 351.1M59.9 347.6L73.8 352.5L78.3 349.4M78.9 348.3L93.0 352.7L97.4 349.5M98.5 348.9L112.7 353.3L117.0 350.1M118.1 347.7L131.8 353.3L136.4 350.5M137.1 348.9L150.5 355.3L155.2 352.7M156.3 348.5L169.8 354.6L174.5 351.9M174.4 349.0L188.6 353.2L192.9 349.9M194.4 348.7L208.5 353.3L212.8 350.1M213.7 348.2L226.7 355.2L231.5 352.9M231.4 348.5L244.6 355.3L249.4 352.9M251.7 348.0L265.1 354.2L269.8 351.6M270.7 349.1L284.4 354.7L289.0 351.9M289.0 348.6L302.7 354.2L307.3 351.3M308.8 348.4L321.7 355.7L326.6 353.4M327.1 348.0L339.8 355.7L344.8 353.6M347.1 348.9L359.1 357.6L364.2 355.9M365.7 347.8L375.7 358.8L381.0 358.2M385.4 348.9L396.8 358.3L402.0 356.9M403.6 348.6L411.2 361.2L416.6 361.7M423.7 349.0L429.5 362.7L434.8 363.9M442.2 348.4L447.7 362.1L452.9 363.5M461.4 347.9L467.7 361.3L473.0 362.3M479.9 347.9L485.2 361.7L490.5 363.1M499.8 348.2L503.1 362.6L508.1 364.8M518.7 348.3L517.8 363.0L521.9 366.5M537.7 347.9L538.3 362.7L542.8 365.6M556.1 349.2L556.9 364.0L561.4 366.9M575.7 347.8L571.4 362.0L574.7 366.3M595.2 348.9L608.4 355.6L613.2 353.1M613.9 348.5L628.6 349.5M626.1 349.3L627.9 347.2M634.0 349.0L642.8 360.9L648.2 360.8M45.0 364.8L59.2 369.0L63.5 365.7M64.4 365.1L78.8 368.4L82.9 364.9M84.0 364.9L98.6 367.7L102.5 364.0M103.4 364.0L118.0 366.7L121.9 363.0M121.1 363.9L135.4 367.4L139.6 363.9M140.4 363.7L154.3 368.9L158.8 365.9M159.3 364.5L173.4 368.9L177.7 365.7M179.7 364.3L193.9 368.4L198.2 365.1M198.9 365.1L213.2 368.8L217.4 365.4M216.6 364.6L230.7 369.1L235.0 366.0M236.2 363.8L249.8 369.7L254.4 367.0M256.2 364.0L269.7 370.1L274.4 367.4M274.7 364.6L288.4 370.3L293.0 367.5M294.4 364.7L308.0 370.6L312.6 367.9M312.6 364.3L325.6 371.5L330.5 369.2M331.4 365.1L344.0 372.9L349.0 370.8M351.8 364.0L363.1 373.4L368.4 372.1M369.4 364.0L380.3 373.9L385.6 372.8M389.0 365.0L399.9 375.0L405.2 373.9M408.9 364.9L416.8 377.5L422.2 377.9M426.7 364.9L432.8 378.3L438.1 379.4M446.8 364.6L452.8 378.2L458.0 379.4M466.4 363.7L472.4 377.2L477.7 378.3M484.1 364.8L489.3 378.7L494.5 380.1M504.5 364.7L506.8 379.3L511.6 381.8M522.6 364.5L522.0 379.3L526.2 382.7M542.4 363.8L545.1 378.3L550.0 380.6M560.8 364.0L560.5 378.8L564.8 382.1M579.6 364.4L580.5 379.1L585.1 382.0M598.8 364.0L612.5 369.6L617.1 366.7M617.6 364.7L631.1 370.9M628.8 369.8L631.2 368.5M638.2 364.0L636.7 378.7M37.5 379.8L51.8 383.7L56.0 380.3M55.9 379.7L70.4 382.8L74.4 379.2M75.8 380.9L90.4 383.4L94.2 379.6M94.4 380.3L109.0 382.9L112.9 379.1M113.0 380.9L127.6 383.4L131.5 379.7M132.4 380.6L146.7 384.1L150.9 380.6M150.9 379.9L165.0 384.4L169.4 381.2M169.9 380.7L184.2 384.6L188.4 381.2M189.8 379.8L204.4 382.1L208.2 378.3M209.4 380.0L224.1 382.0L227.8 378.2M227.8 379.8L242.1 383.4L246.3 379.9M246.6 380.9L260.7 385.4L265.1 382.3M265.8 379.8L279.7 384.9L284.2 381.9M285.2 380.1L299.0 385.4L303.5 382.4M304.9 379.8L318.5 385.6L323.2 382.8M324.2 379.7L337.7 385.7L342.4 383.0M343.1 380.6L355.9 388.2L360.8 386.0M361.1 380.3L372.2 390.1L377.5 388.9M380.4 380.0L390.5 390.8L395.8 390.1M399.3 380.2L408.6 391.7L414.0 391.4M419.7 381.2L427.7 393.6L433.1 393.9M438.7 379.7L444.8 393.2L450.1 394.3M456.8 381.0L462.5 394.7L467.7 395.9M475.5 380.7L480.9 394.5L486.1 395.9M495.0 381.1L499.6 395.2L504.7 396.8M513.6 380.9L519.4 394.5L524.6 395.7M533.2 379.8L548.0 380.8L551.5 376.6M551.8 380.9L566.4 383.1L570.2 379.2M571.7 379.9L580.6 391.7L586.0 391.7M590.7 381.0L604.2 387.2L608.9 384.5M609.3 379.9L612.4 394.3L617.4 396.5M628.5 379.7L643.3 378.4L646.0 373.8M648.1 380.0L662.7 382.5L666.5 378.7M51.2 396.8L65.7 399.8L69.7 396.2M70.1 395.9L84.8 398.0L88.5 394.1M88.4 396.7L103.1 398.2L106.7 394.1M108.1 396.7L122.8 398.1L126.4 394.1M126.6 396.8L141.1 399.7L145.1 396.0M146.1 396.9L160.1 401.8L164.5 398.7M166.1 396.3L180.3 400.4L184.6 397.0M183.8 397.0L198.4 399.3L202.3 395.4M203.7 396.9L218.3 398.8L222.0 394.9M222.4 395.8L236.9 398.9L240.9 395.3M242.4 396.1L256.8 399.6L260.9 396.1M260.5 396.1L274.8 399.7L279.0 396.2M280.3 395.5L294.6 399.0L298.7 395.5M299.2 396.3L313.1 401.3L317.6 398.3M318.3 395.7L332.0 401.3L336.6 398.4M337.7 396.8L351.3 402.7L356.0 400.0M357.1 396.1L369.0 404.9L374.1 403.2M375.9 396.2L385.9 407.1L391.3 406.4M395.1 395.6L404.4 407.1L409.8 406.9M414.4 397.1L423.5 408.7L428.9 408.6M432.9 396.4L439.7 409.5L445.0 410.3M452.0 396.4L458.0 410.0L463.2 411.1M470.3 397.1L476.1 410.7L481.4 411.9M489.8 395.8L494.6 409.8L499.7 411.4M508.7 395.9L513.7 409.9L518.9 411.4M528.9 395.6L543.5 398.3L547.4 394.6M546.9 396.7L561.4 399.3L565.3 395.6M566.1 395.6L578.9 403.1L583.8 400.9M585.9 396.5L596.6 406.7L601.9 405.7M604.2 396.9L612.5 409.1M611.1 407.1L613.8 407.1M623.3 396.3L637.3 401.2M634.9 400.4L637.1 398.9M642.4 396.2L657.0 393.6L659.3 388.7M43.5 411.7L57.9 415.3L62.0 411.8M62.1 412.7L76.7 415.3L80.6 411.5M80.6 412.8L95.3 414.3L98.9 410.2M100.9 412.1L115.7 413.0L119.1 408.9M119.2 412.9L133.8 415.0L137.6 411.2M138.4 412.1L151.8 418.5L156.5 415.9M158.2 412.8L171.7 418.9L176.4 416.2M176.3 411.9L190.7 415.6L194.8 412.2M195.4 412.2L210.0 414.9L213.9 411.2M215.6 412.8L230.0 416.0L234.1 412.4M234.6 412.8L248.9 416.3L253.1 412.8M253.6 411.6L268.0 414.8L272.0 411.2M272.1 413.0L286.7 415.7L290.6 411.9M291.9 411.9L306.4 414.7L310.4 411.1M310.2 412.5L324.0 417.8L328.5 414.9M329.2 412.4L342.9 418.0L347.5 415.1M347.8 412.2L360.5 419.8L365.5 417.7M367.6 411.5L379.0 421.0L384.3 419.6M386.1 413.1L396.2 423.9L401.5 423.3M406.2 413.0L415.5 424.6L420.9 424.3M425.1 412.8L432.0 425.9L437.4 426.7M444.6 412.9L450.9 426.3L456.2 427.3M462.4 412.5L468.2 426.1L473.5 427.3M481.8 412.6L487.4 426.3L492.7 427.6M500.9 412.4L506.0 426.3L511.2 427.8M521.1 412.5L525.5 426.6L530.6 428.4M539.1 412.3L552.5 418.7L557.2 416.1M558.5 413.0L571.1 420.9L576.1 418.8M577.4 412.0L589.4 420.7L594.5 419.0M597.0 411.7L607.2 422.5M615.9 411.9L630.2 415.9L634.4 412.5M634.4 411.7L648.3 406.6M646.0 407.4L646.7 404.8M47.8 427.9L62.0 431.8L66.2 428.4M66.6 427.6L81.1 430.6L85.1 427.0M86.2 428.8L100.8 431.2L104.6 427.4M105.4 428.4L120.0 430.9L123.8 427.1M124.5 427.8L137.9 434.2L142.6 431.6M143.7 428.2L156.6 435.6L161.5 433.4M162.6 428.5L175.9 435.0L180.6 432.5M181.6 428.0L195.9 431.4L200.0 427.9M200.3 427.8L214.9 430.4L218.7 426.7M219.8 428.1L234.3 431.0L238.3 427.4M239.0 427.5L253.5 430.4L257.5 426.8M257.8 428.9L272.3 431.6L276.2 427.9M276.7 428.4L291.3 431.0L295.1 427.2M296.2 427.9L310.7 430.8L314.7 427.1M316.1 428.0L330.2 432.2L334.5 429.0M334.8 427.7L348.6 433.2L353.2 430.3M352.8 428.9L365.0 437.2L370.1 435.4M372.5 427.6L384.0 436.9L389.2 435.5M391.5 428.2L402.3 438.3L407.6 437.3M411.2 427.7L419.8 439.7L425.2 439.8M429.5 429.0L436.1 442.2L441.5 443.1M449.4 427.7L455.4 441.3L460.7 442.4M467.8 428.0L473.3 441.8L478.6 443.1M487.5 428.5L492.6 442.4L497.8 443.8M506.9 428.8L511.2 442.9L516.4 444.7M525.4 428.7L529.7 442.8L534.8 444.6M544.9 428.7L555.2 439.4L560.5 438.6M563.6 428.7L575.4 437.7L580.5 436.1M583.0 428.9L594.4 438.4L599.6 437.1M601.2 428.9L607.6 415.5M621.0 428.3L633.8 435.7L638.8 433.6M639.9 428.7L651.6 437.8L656.8 436.2M38.5 444.2L52.4 449.2L56.9 446.1M57.7 444.6L71.8 449.1L76.2 445.8M76.6 444.1L91.0 447.3L95.1 443.8M96.1 444.1L110.6 446.9L114.6 443.2M114.8 444.7L127.1 452.9L132.2 451.0M134.8 444.2L147.5 451.8L152.4 449.7M153.2 443.7L166.2 450.9L171.0 448.6M172.1 443.7L185.4 450.1L190.2 447.5M191.6 444.4L205.9 448.1L210.1 444.7M209.9 444.9L224.3 448.4L228.4 444.9M229.4 444.8L244.0 447.5L247.9 443.8M249.3 445.0L264.1 446.3L267.6 442.2M267.4 444.1L282.1 446.1L285.8 442.1M287.7 443.5L302.2 446.2L306.1 442.5M305.4 444.4L319.9 447.2L323.9 443.5M325.2 444.9L339.3 449.4L343.7 446.2M344.7 444.3L358.8 449.0L363.2 445.8M364.2 444.3L376.2 453.0L381.3 451.3M382.5 444.5L393.8 454.2L399.0 452.9M401.4 444.0L411.8 454.6L417.2 453.8M420.9 444.0L429.6 456.0L435.0 456.0M440.5 444.5L447.1 457.8L452.4 458.7M458.9 443.6L464.6 457.3L469.9 458.5M477.8 444.1L482.9 458.0L488.1 459.5M497.2 444.4L501.4 458.6L506.5 460.4M516.8 445.0L520.5 459.3L525.5 461.3M535.3 444.2L540.2 458.1L545.3 459.7M554.6 445.0L569.2 447.4L573.0 443.6M573.2 444.3L587.0 449.8L591.6 446.9M593.1 443.7L607.9 443.6L611.1 439.3M611.4 445.0L626.1 447.1L629.8 443.2M630.2 444.9L644.9 446.1M650.7 444.9L665.3 442.7M662.8 443.0L664.1 440.6M49.4 460.2L62.9 466.2L67.6 463.5M68.8 459.7L82.3 465.8L87.0 463.1M87.4 460.4L99.9 468.4L104.9 466.4M107.2 460.0L120.2 467.0L125.1 464.6M126.9 460.4L139.7 467.8L144.6 465.6M144.5 460.1L157.8 466.5L162.6 463.9M164.8 459.9L177.2 467.9L182.2 466.0M183.7 459.4L196.0 467.7L201.1 465.8M202.2 460.8L216.8 463.0L220.6 459.2M221.7 460.5L236.4 462.5L240.1 458.5M240.2 460.2L255.0 460.7L258.3 456.5M259.9 459.8L274.7 460.0L277.9 455.7M279.1 460.3L293.9 461.6L297.4 457.6M298.8 460.3L313.3 463.1L317.3 459.4M317.0 459.6L331.4 462.9L335.5 459.3M335.7 460.6L349.6 465.4L354.1 462.3M354.7 459.6L368.1 465.7L372.8 463.1M373.9 460.3L385.6 469.3L390.8 467.8M394.0 460.4L404.5 470.9L409.8 470.0M413.1 459.5L423.5 470.1L428.8 469.3M430.9 460.7L439.2 472.9L444.6 473.1M450.5 460.6L457.5 473.6L462.8 474.4M469.7 459.7L475.6 473.2L480.9 474.4M488.6 459.6L493.0 473.7L498.1 475.5M508.7 460.4L511.8 474.8L516.8 477.0M527.0 460.1L530.7 474.5L535.7 476.4M546.1 459.5L550.2 473.7L555.3 475.6M566.0 460.4L580.1 465.1L584.5 461.9M585.2 460.1L594.0 472.0L599.4 472.0M603.8 459.8L618.5 457.8L621.0 453.0M622.0 460.9L635.2 467.5M633.0 466.4L635.4 465.2M642.4 460.7L655.8 454.3L656.7 449.0M41.8 476.2L54.5 483.8M59.8 476.0L72.5 483.6L77.4 481.5M78.9 475.9L91.3 483.8M98.4 476.7L111.1 484.3M108.9 483.0L111.4 481.9M117.0 476.0L129.8 483.4M127.6 482.1L130.1 481.0M137.4 475.9L149.1 484.9L154.3 483.3M155.1 476.2L166.9 485.1M164.9 483.6L167.5 482.8M174.6 475.5L186.8 484.0M184.7 482.6L187.3 481.7M194.4 476.0L208.0 481.7M205.7 480.8L208.1 479.4M212.5 475.8L227.1 478.1M224.7 477.7L226.6 475.8M231.4 476.5L245.7 480.3M243.2 479.6L245.3 477.9M250.6 476.5L265.4 477.2M262.9 477.1L264.6 475.0M269.9 476.7L284.7 475.3M282.2 475.5L283.5 473.2M289.3 476.7L303.9 474.2L306.3 469.4M309.0 475.6L323.8 476.0L327.1 471.7M327.4 476.5L341.6 480.8L345.8 477.5M346.5 476.9L358.8 485.2L363.9 483.3M365.3 476.9L377.7 485.1L382.7 483.2M384.9 475.8L395.8 485.7L401.1 484.6M403.9 475.6L414.3 486.1L419.7 485.3M423.4 475.8L432.3 487.7L437.7 487.6M442.8 476.3L450.3 489.1L455.7 489.7M461.1 475.8L468.5 488.6L473.8 489.2M480.6 475.7L486.4 489.3L491.6 490.6M500.1 475.6L505.7 489.3L511.0 490.6M518.6 476.3L522.0 490.7L527.0 492.7M537.3 476.6L540.6 491.1L545.5 493.2M556.6 476.4L563.5 489.5L568.9 490.3M576.0 475.9L583.9 488.4L589.3 488.8M594.8 475.5L604.9 486.3L610.3 485.7M613.6 476.8L628.4 475.9L631.3 471.3M632.9 476.5L643.6 466.3L642.9 460.9M45.2 492.2L55.8 502.4M54.0 500.7L56.7 500.2M63.8 491.9L73.1 503.4M71.5 501.4L74.2 501.3M83.0 492.5L95.1 501.0M93.1 499.5L95.6 498.7M102.5 492.8L116.0 498.9M122.4 492.7L136.0 498.5M133.7 497.5L136.0 496.2M140.5 491.4L151.6 501.3L156.9 500.1M160.3 491.9L170.6 502.5M168.9 500.7L171.6 500.3M179.4 492.5L187.7 504.7M186.3 502.6L189.0 502.7M198.8 491.9L210.4 501.1L215.6 499.6M216.8 491.5L230.3 497.6M236.8 492.5L250.4 498.3M248.1 497.3L250.4 495.9M254.8 491.6L269.5 493.0M267.0 492.8L268.8 490.7M274.3 492.0L288.5 487.9M286.1 488.6L287.0 486.1M293.4 492.4L307.7 488.4L309.5 483.4M312.3 492.7L327.1 492.1L330.1 487.6M332.0 492.5L346.7 493.9L350.3 489.9M350.6 492.1L363.1 500.1L368.1 498.1M370.4 491.9L382.3 500.7L387.4 499.1M388.4 492.7L399.8 502.1L405.0 500.8M408.7 491.8L418.5 502.9L423.9 502.4M426.7 492.7L434.9 505.0L440.3 505.3M446.7 491.4L454.4 504.0L459.8 504.5M465.2 491.5L471.8 504.8L477.1 505.7M485.2 491.7L490.2 505.6L495.3 507.1M504.5 492.6L508.4 506.8L513.5 508.7M522.2 492.5L525.7 506.9L530.7 508.9M541.8 492.6L545.7 506.8L550.8 508.7M561.6 491.8L571.9 502.5L577.2 501.7M579.5 492.9L593.3 498.4L597.8 495.6M599.2 492.8L611.0 501.8L616.1 500.2M618.7 492.5L632.4 498.3L637.0 495.4M638.0 492.4L652.6 495.2M650.1 494.7L652.1 492.9M37.2 508.0L46.7 519.4L52.0 519.1M56.7 507.5L61.9 521.4M74.4 508.5L76.2 523.1M93.8 508.2L108.6 508.5M113.5 508.2L127.8 504.1M125.3 504.8L126.3 502.3M131.7 507.9L139.5 520.5M138.2 518.4L140.9 518.5M151.0 507.8L160.9 518.9M159.2 517.0L161.9 516.7M170.9 508.4L171.3 523.2M171.2 520.7L173.4 522.2M189.3 508.2L198.0 520.1M196.6 518.1L199.3 518.1M209.5 507.9L220.0 518.3M218.3 516.5L220.9 516.1M228.5 507.6L240.8 515.8L245.9 513.9M246.7 508.6L260.9 513.0L265.2 509.7M266.5 507.6L281.2 505.7L283.8 501.0M285.4 508.1L299.4 503.4L301.0 498.2M304.7 508.7L317.7 501.5L318.4 496.2M322.8 507.8L337.6 507.6L340.7 503.2M342.3 507.7L356.8 510.6L360.8 507.0M360.9 507.8L372.9 516.5L378.0 514.8M380.2 508.5L391.7 517.8L396.9 516.4M399.7 507.5L410.9 517.1L416.2 515.9M418.6 508.1L427.2 520.2L432.6 520.2M437.8 507.6L446.0 519.9L451.4 520.1M456.4 507.3L462.8 520.7L468.2 521.6M477.0 508.5L482.7 522.2L487.9 523.5M494.6 508.5L498.5 522.8L503.6 524.7M515.2 508.2L518.3 522.7L523.3 524.9M532.9 508.1L536.4 522.5L541.4 524.5M552.5 507.6L556.7 521.8L561.8 523.6M571.8 507.3L586.0 511.5L590.2 508.2M591.5 508.4L603.0 517.7L608.2 516.3M610.1 508.8L621.7 518.0L626.9 516.6M629.2 507.7L643.9 509.6M641.4 509.3L643.3 507.3M647.3 508.6L653.4 522.1M652.4 519.8L655.0 520.4M50.4 524.3L56.6 537.7M70.7 523.6L73.1 538.2M89.6 524.5L101.7 533.0M99.7 531.6L102.2 530.7M107.7 524.6L122.1 521.1M119.6 521.7L120.7 519.2M127.1 524.2L141.9 525.0M139.4 524.9L141.1 522.8M146.9 523.7L153.1 537.2M152.0 534.9L154.7 535.4M165.6 524.3L170.9 538.1M184.9 524.7L190.2 538.6M203.7 524.1L213.7 535.0M212.0 533.2L214.7 532.9M222.5 524.2L233.5 534.1M231.6 532.4L234.3 531.9M242.2 523.6L254.9 531.1M252.8 529.8L255.3 528.7M261.8 523.4L276.4 525.2M274.0 524.9L275.8 523.0M280.0 523.6L294.5 520.5L296.6 515.5M299.6 523.3L312.8 516.6L313.6 511.3M318.8 524.7L333.3 521.4L335.4 516.4M337.9 524.0L352.6 525.2L356.1 521.1M356.2 524.4L368.8 532.0L373.8 529.9M375.6 524.0L387.2 533.2L392.4 531.8M394.4 524.0L405.8 533.4L411.1 532.1M414.1 524.6L423.5 536.0L428.9 535.7M433.5 523.6L441.5 536.1L446.8 536.4M451.7 524.0L458.7 537.0L464.0 537.8M471.2 523.9L477.0 537.5L482.3 538.7M489.7 523.4L493.9 537.6L499.0 539.5M509.0 524.0L512.4 538.4L517.4 540.5M529.2 524.8L532.7 539.1L537.7 541.1M548.1 524.9L552.0 539.1L557.0 541.1M567.3 524.3L576.7 535.7L582.1 535.4M586.2 523.4L597.7 532.7L602.9 531.3M605.1 524.3L616.5 533.7L621.7 532.3M623.6 524.2L634.9 533.7L640.2 532.4M643.7 524.1L652.5 536.0M651.0 534.0L653.7 534.0" fill="none" stroke="#000" stroke-width="1" stroke-linecap="butt" shape-rendering="crispEdges"/>
<polyline points="247.7,51.0 253.0,55.4 263.9,59.7 272.5,61.9 276.8,60.8 285.4,57.5 294.0,54.3 298.4,51.0" fill="none" stroke="#000" stroke-width="3.0" stroke-linejoin="round" shape-rendering="crispEdges"/>
<polyline points="343.0,51.0 350.0,54.5 357.0,55.0 364.0,53.5 369.0,51.0" fill="none" stroke="#000" stroke-width="3.0" stroke-linejoin="round" shape-rendering="crispEdges"/>
<polyline points="474.0,49.0 477.6,52.8 482.5,58.3 486.6,60.4 490.8,63.9 496.3,60.4 503.2,56.2 508.8,57.6 515.7,58.3 521.2,56.9 523.3,53.5 525.4,53.5 528.2,56.9 532.3,59.7 535.1,65.2 539.3,66.6 544.8,65.9 546.2,70.8 547.6,76.3 549.0,81.9 547.6,88.8 546.9,95.7 544.8,102.6 542.0,108.2 540.6,112.3 543.4,115.1 542.7,120.6 540.6,124.8 542.0,129.6 539.3,134.5 536.5,139.5 532.5,143.5 533.9,151.6 536.2,158.5 540.0,163.0 546.0,170.0 553.8,177.7 561.5,185.4 568.5,193.8 573.8,200.8 580.0,208.5 583.8,214.6 585.4,222.3 587.0,227.0 589.0,233.0 593.0,239.0 596.0,245.4 598.5,251.5 601.5,264.0 600.0,276.0 604.6,288.5 610.8,299.0 610.8,313.0 607.7,322.3 600.0,333.0 592.3,340.8 587.7,353.0 583.0,365.4 578.5,380.8 576.0,396.0 576.0,403.0 577.0,410.0 579.0,420.2 584.2,428.3 590.2,436.4 596.3,446.6 601.4,456.7 606.4,466.8 611.5,476.0 616.6,483.0 620.6,489.0 621.6,497.2 620.6,503.2 621.6,511.3 623.6,519.4 626.7,525.5 629.0,530.0" fill="none" stroke="#000" stroke-width="3.0" stroke-linejoin="round" shape-rendering="crispEdges"/>
<polyline points="270.3,51.0 271.4,61.0" fill="none" stroke="#000" stroke-width="2.3" stroke-linejoin="round" shape-rendering="crispEdges"/>
<polyline points="546.9,96.2 573.0,96.2 573.0,114.7 553.0,115.0 542.0,111.0" fill="none" stroke="#000" stroke-width="2.3" stroke-linejoin="round" shape-rendering="crispEdges"/>
<polyline points="573.0,96.2 601.0,95.0 605.5,97.3 633.0,97.3" fill="none" stroke="#000" stroke-width="2.3" stroke-linejoin="round" shape-rendering="crispEdges"/>
<polyline points="601.0,95.0 601.5,99.2 603.0,108.5 612.3,110.0 621.5,108.5 623.0,116.0 620.0,122.3 615.4,127.0 618.5,136.0 624.6,140.8 624.0,149.3 624.6,154.6 620.0,165.4 617.0,170.0 613.8,168.5 607.7,167.0 601.5,167.7 597.0,165.4 593.8,161.5 590.8,160.8 591.5,167.0 584.6,168.5 577.0,169.2 577.0,177.7 582.3,179.2 583.0,185.4 581.5,190.8 577.0,188.5 572.3,190.0 569.2,193.8" fill="none" stroke="#000" stroke-width="2.3" stroke-linejoin="round" shape-rendering="crispEdges"/>
<polyline points="583.8,213.0 584.6,208.5 589.2,203.8 595.4,202.3 598.5,203.8 601.5,207.0 606.0,208.5 610.8,203.8 617.0,201.5 621.5,202.3 623.8,210.0 633.0,206.0" fill="none" stroke="#000" stroke-width="2.3" stroke-linejoin="round" shape-rendering="crispEdges"/>
<polyline points="586.0,222.3 590.8,220.8 591.5,211.5 597.0,207.0 601.5,207.0" fill="none" stroke="#000" stroke-width="2.3" stroke-linejoin="round" shape-rendering="crispEdges"/>
<polyline points="587.0,227.0 593.8,227.0 601.5,225.4 607.7,222.3 610.8,224.6 620.0,225.4 633.0,225.4" fill="none" stroke="#000" stroke-width="2.3" stroke-linejoin="round" shape-rendering="crispEdges"/>
<polyline points="576.0,405.0 584.2,403.0 592.3,404.0 600.4,403.0 608.5,405.0 614.5,408.0 620.6,408.0 633.0,405.0" fill="none" stroke="#000" stroke-width="2.3" stroke-linejoin="round" shape-rendering="crispEdges"/>
<ellipse cx="529.7" cy="74.0" rx="3.2" ry="4.7" transform="rotate(22 529.7 74.0)" fill="none" stroke="#000" stroke-width="2.8"/>
<ellipse cx="496.3" cy="126.0" rx="2.4" ry="3.0" transform="rotate(20 496.3 126.0)" fill="none" stroke="#000" stroke-width="2.5"/>
<ellipse cx="507.7" cy="104.2" rx="1.8" ry="2.4" fill="#000"/>
<ellipse cx="481.0" cy="153.0" rx="1.7" ry="1.9" fill="#000"/>
<rect x="540.5" y="125.0" width="8.5" height="5.0" fill="#000"/>
<rect x="620.4" y="492.0" width="3.4" height="10.0" fill="none" stroke="#000" stroke-width="1.3"/>
<polygon points="161.7,250.5 163.6,255.3 168.8,255.7 164.8,259.0 166.1,264.1 161.7,261.3 157.3,264.1 158.6,259.0 154.6,255.7 159.8,255.3" fill="none" stroke="#000" stroke-width="3.0" stroke-linejoin="round"/><polygon points="300.8,378.8 302.7,383.6 307.9,384.0 303.9,387.3 305.2,392.4 300.8,389.6 296.4,392.4 297.7,387.3 293.7,384.0 298.9,383.6" fill="none" stroke="#000" stroke-width="3.0" stroke-linejoin="round"/>
</g>
<rect x="72.0" y="51.0" width="559.0" height="479.0" fill="none" stroke="#000" stroke-width="4" stroke-linejoin="round"/>
<path d="M231.71 33.0V51.0M231.71 530.0V548.0M391.43 33.0V51.0M391.43 530.0V548.0M551.14 33.0V51.0M551.14 530.0V548.0" stroke="#000" stroke-width="3" stroke-linecap="butt" fill="none"/>
<path d="M72.00 33.0V51.0M72.00 530.0V548.0M54.0 130.86H72.0M631.0 130.86H649.0M54.0 290.57H72.0M631.0 290.57H649.0M54.0 450.29H72.0M631.0 450.29H649.0" stroke="#000" stroke-width="4" stroke-linecap="butt" fill="none"/>
<path d="M103.94 42.0V51.0M103.94 530.0V539.0M135.89 42.0V51.0M135.89 530.0V539.0M167.83 42.0V51.0M167.83 530.0V539.0M199.77 42.0V51.0M199.77 530.0V539.0M263.66 42.0V51.0M263.66 530.0V539.0M295.60 42.0V51.0M295.60 530.0V539.0M327.54 42.0V51.0M327.54 530.0V539.0M359.49 42.0V51.0M359.49 530.0V539.0M423.37 42.0V51.0M423.37 530.0V539.0M455.31 42.0V51.0M455.31 530.0V539.0M487.26 42.0V51.0M487.26 530.0V539.0M519.20 42.0V51.0M519.20 530.0V539.0M583.09 42.0V51.0M583.09 530.0V539.0M615.03 42.0V51.0M615.03 530.0V539.0M63.0 66.97H72.0M631.0 66.97H640.0M63.0 98.91H72.0M631.0 98.91H640.0M63.0 162.80H72.0M631.0 162.80H640.0M63.0 194.74H72.0M631.0 194.74H640.0M63.0 226.69H72.0M631.0 226.69H640.0M63.0 258.63H72.0M631.0 258.63H640.0M63.0 322.51H72.0M631.0 322.51H640.0M63.0 354.46H72.0M631.0 354.46H640.0M63.0 386.40H72.0M631.0 386.40H640.0M63.0 418.34H72.0M631.0 418.34H640.0M63.0 482.23H72.0M631.0 482.23H640.0M63.0 514.17H72.0M631.0 514.17H640.0" stroke="#000" stroke-width="2.1" fill="none"/>
<rect x="78.60" y="595.0" width="42.25" height="42.6" fill="#FDFDFD"/>
<rect x="120.55" y="595.0" width="42.25" height="42.6" fill="#AAAAFF"/>
<rect x="162.51" y="595.0" width="42.25" height="42.6" fill="#5555FF"/>
<rect x="204.46" y="595.0" width="42.25" height="42.6" fill="#0000FF"/>
<rect x="246.42" y="595.0" width="42.25" height="42.6" fill="#0033B3"/>
<rect x="288.37" y="595.0" width="42.25" height="42.6" fill="#007460"/>
<rect x="330.32" y="595.0" width="42.25" height="42.6" fill="#00AA1E"/>
<rect x="372.28" y="595.0" width="42.25" height="42.6" fill="#50C814"/>
<rect x="414.23" y="595.0" width="42.25" height="42.6" fill="#A8E010"/>
<rect x="456.18" y="595.0" width="42.25" height="42.6" fill="#F5F800"/>
<rect x="498.14" y="595.0" width="42.25" height="42.6" fill="#FFB400"/>
<rect x="540.09" y="595.0" width="42.25" height="42.6" fill="#FF5F00"/>
<rect x="582.05" y="595.0" width="42.25" height="42.6" fill="#FF0A0A"/>
<path d="M120.55 595.0V637.6M162.51 595.0V637.6M204.46 595.0V637.6M246.42 595.0V637.6M288.37 595.0V637.6M330.32 595.0V637.6M372.28 595.0V637.6M414.23 595.0V637.6M456.18 595.0V637.6M498.14 595.0V637.6M540.09 595.0V637.6M582.05 595.0V637.6" stroke="#000" stroke-width="2.0" fill="none"/>
<rect x="78.60" y="595.0" width="545.40" height="42.6" fill="none" stroke="#000" stroke-width="2.4"/>
<g filter="url(#gs)">
<polygon fill="#000" points="258.1,4.9 261.2,3.6 263.1,0.9 265.2,0.9 265.2,21.9 261.9,21.9 261.9,7.6 258.1,7.6"/>
<rect x="590.2" y="24.9" width="16.8" height="2.8" fill="#000"/>
<polygon fill="#000" points="484.4,5.9 487.5,4.6 489.4,1.9 491.5,1.9 491.5,23.1 488.2,23.1 488.2,8.6 484.4,8.6"/>
<polygon fill="#000" points="624.2,5.9 627.3,4.6 629.1,1.9 631.3,1.9 631.3,23.1 628.0,23.1 628.0,8.6 624.2,8.6"/>
<polygon fill="#000" points="4.1,284.7 6.7,283.9 8.0,281.9 10.3,281.9 10.3,298.9 7.2,298.9 7.2,287.8 4.1,287.8"/>
<polygon fill="#000" points="210.3,564.9 212.9,564.1 214.2,562.1 216.5,562.1 216.5,579.1 213.4,579.1 213.4,568.0 210.3,568.0"/>
<polygon fill="#000" points="533.1,564.7 535.7,563.9 537.0,561.9 539.3,561.9 539.3,578.9 536.2,578.9 536.2,567.8 533.1,567.8"/>
<polygon fill="#000" points="194.4,652.8 197.0,652.0 198.3,650.0 200.6,650.0 200.6,667.0 197.5,667.0 197.5,655.9 194.4,655.9"/>
<text transform="translate(69.30 22.20) scale(1.000 1.040)" font-size="27.70" text-anchor="start" style="font-family:'Liberation Sans',sans-serif;fill:#000;stroke:#000;stroke-width:1.40px">Extinction IFA (<tspan style="fill:none;stroke:none">1</tspan>/Mm)</text>
<text transform="translate(450.00 23.20) scale(1.000 1.040)" font-size="27.60" text-anchor="start" style="font-family:'Liberation Sans',sans-serif;fill:#000;stroke:#000;stroke-width:1.40px">20<tspan style="fill:none;stroke:none">1</tspan>8-09-29<tspan style="fill:none;stroke:none">_</tspan>2<tspan style="fill:none;stroke:none">1</tspan></text>
<text transform="translate(632.00 47.90) scale(1.000 1.030)" font-size="21.60" text-anchor="end" style="font-family:'Liberation Sans',sans-serif;fill:#000;stroke:#000;stroke-width:1.60px">Surface</text>
<text transform="translate(72.00 579.00) scale(0.985 1.030)" font-size="22.10" text-anchor="middle" style="font-family:'Liberation Sans',sans-serif;fill:#000;stroke:#000;stroke-width:1.60px">20W</text>
<text transform="translate(231.71 579.00) scale(0.985 1.030)" font-size="22.10" text-anchor="middle" style="font-family:'Liberation Sans',sans-serif;fill:#000;stroke:#000;stroke-width:1.60px"><tspan style="fill:none;stroke:none">1</tspan>0W</text>
<text transform="translate(391.43 579.00) scale(0.985 1.030)" font-size="22.10" text-anchor="middle" style="font-family:'Liberation Sans',sans-serif;fill:#000;stroke:#000;stroke-width:1.60px">0</text>
<text transform="translate(551.14 579.00) scale(0.985 1.030)" font-size="22.10" text-anchor="middle" style="font-family:'Liberation Sans',sans-serif;fill:#000;stroke:#000;stroke-width:1.60px"><tspan style="fill:none;stroke:none">1</tspan>0E</text>
<text transform="translate(41.30 138.66) scale(0.985 1.030)" font-size="22.10" text-anchor="end" style="font-family:'Liberation Sans',sans-serif;fill:#000;stroke:#000;stroke-width:1.60px">0</text>
<text transform="translate(41.30 298.37) scale(0.985 1.030)" font-size="22.10" text-anchor="end" style="font-family:'Liberation Sans',sans-serif;fill:#000;stroke:#000;stroke-width:1.60px"><tspan style="fill:none;stroke:none">1</tspan>0S</text>
<text transform="translate(41.30 458.09) scale(0.985 1.030)" font-size="22.10" text-anchor="end" style="font-family:'Liberation Sans',sans-serif;fill:#000;stroke:#000;stroke-width:1.60px">20S</text>
<text transform="translate(120.55 667.40) scale(0.985 1.030)" font-size="22.10" text-anchor="middle" style="font-family:'Liberation Sans',sans-serif;fill:#000;stroke:#000;stroke-width:1.60px">2</text>
<text transform="translate(204.46 667.40) scale(0.985 1.030)" font-size="22.10" text-anchor="middle" style="font-family:'Liberation Sans',sans-serif;fill:#000;stroke:#000;stroke-width:1.60px"><tspan style="fill:none;stroke:none">1</tspan>0</text>
<text transform="translate(288.37 667.40) scale(0.985 1.030)" font-size="22.10" text-anchor="middle" style="font-family:'Liberation Sans',sans-serif;fill:#000;stroke:#000;stroke-width:1.60px">50</text>
<text transform="translate(372.28 667.40) scale(0.985 1.030)" font-size="22.10" text-anchor="middle" style="font-family:'Liberation Sans',sans-serif;fill:#000;stroke:#000;stroke-width:1.60px">200</text>
<text transform="translate(456.18 667.40) scale(0.985 1.030)" font-size="22.10" text-anchor="middle" style="font-family:'Liberation Sans',sans-serif;fill:#000;stroke:#000;stroke-width:1.60px">400</text>
<text transform="translate(540.09 667.40) scale(0.985 1.030)" font-size="22.10" text-anchor="middle" style="font-family:'Liberation Sans',sans-serif;fill:#000;stroke:#000;stroke-width:1.60px">600</text>
</g>
</svg>
</body></html>
